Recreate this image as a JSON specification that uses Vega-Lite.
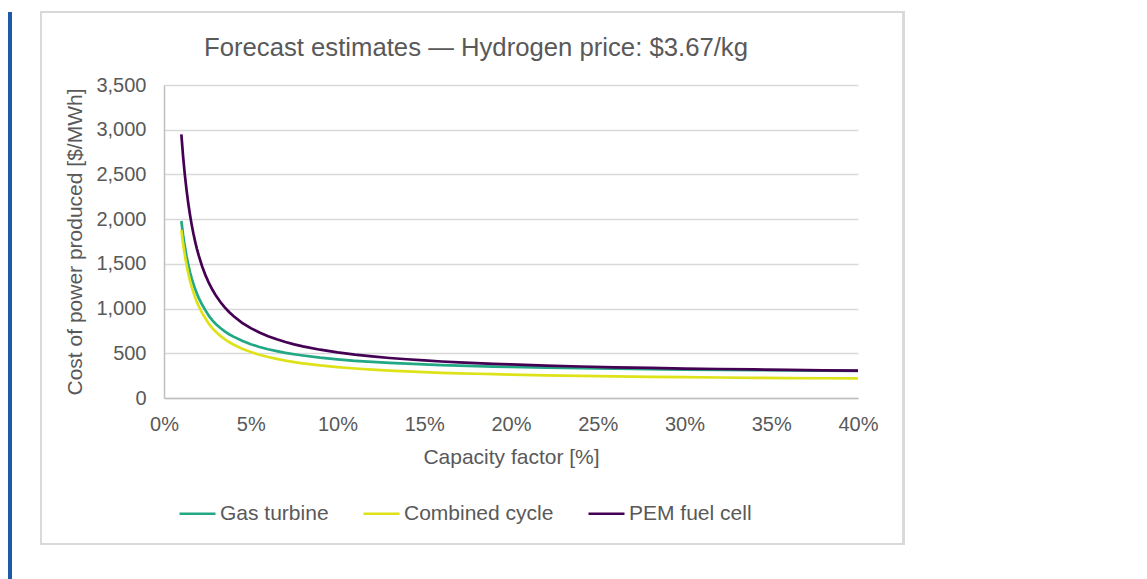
{
  "$schema": "https://vega.github.io/schema/vega-lite/v6.json",
  "width": 694,
  "height": 313,
  "autosize": {"type": "none"},
  "padding": {"left": 164, "top": 85, "right": 289, "bottom": 181},
  "background": "white",
  "title": {
    "text": "Forecast estimates — Hydrogen price: $3.67/kg",
    "font": "Liberation Sans",
    "fontSize": 25.7,
    "fontWeight": "normal",
    "color": "#595959",
    "anchor": "middle",
    "dx": -35,
    "offset": -51
  },
  "data": {
    "values": [
      {"cf": 0.010, "Gas turbine": 1979, "Combined cycle": 1879, "PEM fuel cell": 2949},
      {"cf": 0.011, "Gas turbine": 1823, "Combined cycle": 1724, "PEM fuel cell": 2703},
      {"cf": 0.012, "Gas turbine": 1693, "Combined cycle": 1595, "PEM fuel cell": 2497},
      {"cf": 0.013, "Gas turbine": 1583, "Combined cycle": 1486, "PEM fuel cell": 2324},
      {"cf": 0.014, "Gas turbine": 1488, "Combined cycle": 1392, "PEM fuel cell": 2175},
      {"cf": 0.015, "Gas turbine": 1406, "Combined cycle": 1311, "PEM fuel cell": 2046},
      {"cf": 0.016, "Gas turbine": 1335, "Combined cycle": 1240, "PEM fuel cell": 1933},
      {"cf": 0.017, "Gas turbine": 1272, "Combined cycle": 1178, "PEM fuel cell": 1833},
      {"cf": 0.018, "Gas turbine": 1215, "Combined cycle": 1122, "PEM fuel cell": 1745},
      {"cf": 0.019, "Gas turbine": 1165, "Combined cycle": 1072, "PEM fuel cell": 1665},
      {"cf": 0.020, "Gas turbine": 1120, "Combined cycle": 1028, "PEM fuel cell": 1594},
      {"cf": 0.022, "Gas turbine": 1042, "Combined cycle": 950, "PEM fuel cell": 1471},
      {"cf": 0.024, "Gas turbine": 977, "Combined cycle": 886, "PEM fuel cell": 1368},
      {"cf": 0.026, "Gas turbine": 915, "Combined cycle": 825, "PEM fuel cell": 1281},
      {"cf": 0.028, "Gas turbine": 866, "Combined cycle": 778, "PEM fuel cell": 1207},
      {"cf": 0.030, "Gas turbine": 825, "Combined cycle": 738, "PEM fuel cell": 1142},
      {"cf": 0.0325, "Gas turbine": 782, "Combined cycle": 695, "PEM fuel cell": 1073},
      {"cf": 0.035, "Gas turbine": 745, "Combined cycle": 658, "PEM fuel cell": 1013},
      {"cf": 0.0375, "Gas turbine": 713, "Combined cycle": 626, "PEM fuel cell": 962},
      {"cf": 0.040, "Gas turbine": 686, "Combined cycle": 598, "PEM fuel cell": 917},
      {"cf": 0.045, "Gas turbine": 640, "Combined cycle": 551, "PEM fuel cell": 841},
      {"cf": 0.050, "Gas turbine": 602, "Combined cycle": 514, "PEM fuel cell": 781},
      {"cf": 0.055, "Gas turbine": 571, "Combined cycle": 484, "PEM fuel cell": 732},
      {"cf": 0.060, "Gas turbine": 545, "Combined cycle": 458, "PEM fuel cell": 691},
      {"cf": 0.065, "Gas turbine": 524, "Combined cycle": 437, "PEM fuel cell": 656},
      {"cf": 0.070, "Gas turbine": 505, "Combined cycle": 418, "PEM fuel cell": 626},
      {"cf": 0.075, "Gas turbine": 489, "Combined cycle": 402, "PEM fuel cell": 600},
      {"cf": 0.080, "Gas turbine": 475, "Combined cycle": 388, "PEM fuel cell": 578},
      {"cf": 0.090, "Gas turbine": 451, "Combined cycle": 364, "PEM fuel cell": 540},
      {"cf": 0.100, "Gas turbine": 432, "Combined cycle": 345, "PEM fuel cell": 510},
      {"cf": 0.110, "Gas turbine": 416, "Combined cycle": 330, "PEM fuel cell": 485},
      {"cf": 0.120, "Gas turbine": 404, "Combined cycle": 318, "PEM fuel cell": 465},
      {"cf": 0.130, "Gas turbine": 393, "Combined cycle": 307, "PEM fuel cell": 447},
      {"cf": 0.140, "Gas turbine": 384, "Combined cycle": 298, "PEM fuel cell": 433},
      {"cf": 0.150, "Gas turbine": 376, "Combined cycle": 290, "PEM fuel cell": 420},
      {"cf": 0.160, "Gas turbine": 368, "Combined cycle": 282, "PEM fuel cell": 408},
      {"cf": 0.170, "Gas turbine": 362, "Combined cycle": 276, "PEM fuel cell": 398},
      {"cf": 0.180, "Gas turbine": 356, "Combined cycle": 271, "PEM fuel cell": 390},
      {"cf": 0.190, "Gas turbine": 351, "Combined cycle": 266, "PEM fuel cell": 382},
      {"cf": 0.200, "Gas turbine": 347, "Combined cycle": 261, "PEM fuel cell": 375},
      {"cf": 0.220, "Gas turbine": 339, "Combined cycle": 253, "PEM fuel cell": 362},
      {"cf": 0.240, "Gas turbine": 333, "Combined cycle": 247, "PEM fuel cell": 352},
      {"cf": 0.260, "Gas turbine": 327, "Combined cycle": 242, "PEM fuel cell": 343},
      {"cf": 0.280, "Gas turbine": 322, "Combined cycle": 237, "PEM fuel cell": 336},
      {"cf": 0.300, "Gas turbine": 318, "Combined cycle": 233, "PEM fuel cell": 329},
      {"cf": 0.320, "Gas turbine": 315, "Combined cycle": 229, "PEM fuel cell": 324},
      {"cf": 0.340, "Gas turbine": 312, "Combined cycle": 226, "PEM fuel cell": 319},
      {"cf": 0.360, "Gas turbine": 309, "Combined cycle": 223, "PEM fuel cell": 314},
      {"cf": 0.380, "Gas turbine": 306, "Combined cycle": 221, "PEM fuel cell": 310},
      {"cf": 0.400, "Gas turbine": 304, "Combined cycle": 219, "PEM fuel cell": 307}
    ]
  },
  "layer": [
    {
      "transform": [
        {"fold": ["Gas turbine", "Combined cycle", "PEM fuel cell"], "as": ["series", "cost"]}
      ],
      "mark": {"type": "line", "strokeWidth": 2.7, "clip": false},
      "encoding": {
        "x": {
          "field": "cf",
          "type": "quantitative",
          "scale": {"domain": [0, 0.4], "nice": false, "zero": false},
          "axis": {
            "title": "Capacity factor [%]",
            "format": ".0%",
            "labelExpr": "format(datum.value, '.0%')",
            "values": [0, 0.05, 0.1, 0.15, 0.2, 0.25, 0.3, 0.35, 0.4],
            "labelFlush": false,
            "grid": false,
            "ticks": false,
            "domainColor": "#bfbfbf",
            "domainWidth": 1.5,
            "labelPadding": 16,
            "titlePadding": 12
          }
        },
        "y": {
          "field": "cost",
          "type": "quantitative",
          "scale": {"domain": [0, 3500], "nice": false},
          "axis": {
            "title": "Cost of power produced [$/MWh]",
            "format": ",",
            "labelExpr": "format(datum.value, ',')",
            "values": [0, 500, 1000, 1500, 2000, 2500, 3000, 3500],
            "labelFlush": false,
            "grid": true,
            "gridColor": "#d9d9d9",
            "gridWidth": 1.3,
            "ticks": false,
            "domainColor": "#bfbfbf",
            "domainWidth": 1.5,
            "labelPadding": 18,
            "titlePadding": 10
          }
        },
        "color": {
          "field": "series",
          "type": "nominal",
          "sort": ["Gas turbine", "Combined cycle", "PEM fuel cell"],
          "scale": {
            "domain": ["Gas turbine", "Combined cycle", "PEM fuel cell"],
            "range": ["#22a884", "#dde318", "#440154"]
          },
          "legend": {
            "title": null,
            "orient": "none",
            "direction": "horizontal",
            "legendX": 14,
            "legendY": 409,
            "symbolType": "stroke",
            "symbolSize": 1296,
            "symbolStrokeWidth": 2.7,
            "labelOffset": 3,
            "columnPadding": 29,
            "labelFont": "Liberation Sans",
            "labelFontSize": 21,
            "labelColor": "#595959"
          }
        }
      }
    },
    {
      "mark": {"type": "rect", "fill": "transparent", "stroke": "#d9d9d9", "strokeWidth": 1.5, "clip": false},
      "encoding": {
        "x": {"datum": -0.0709, "type": "quantitative"},
        "x2": {"datum": 0.4262},
        "y": {"datum": 4316, "type": "quantitative"},
        "y2": {"datum": -1633}
      }
    },
    {
      "mark": {"type": "rule", "stroke": "#1f5aa6", "strokeWidth": 3, "clip": false},
      "encoding": {
        "x": {"datum": -0.0888, "type": "quantitative"},
        "y": {"datum": 4316, "type": "quantitative"},
        "y2": {"datum": -2400}
      }
    }
  ],
  "config": {
    "view": {"stroke": null},
    "axis": {
      "labelFont": "Liberation Sans",
      "labelFontSize": 20,
      "labelColor": "#595959",
      "titleFont": "Liberation Sans",
      "titleFontSize": 21,
      "titleFontWeight": "normal",
      "titleColor": "#595959"
    }
  }
}
